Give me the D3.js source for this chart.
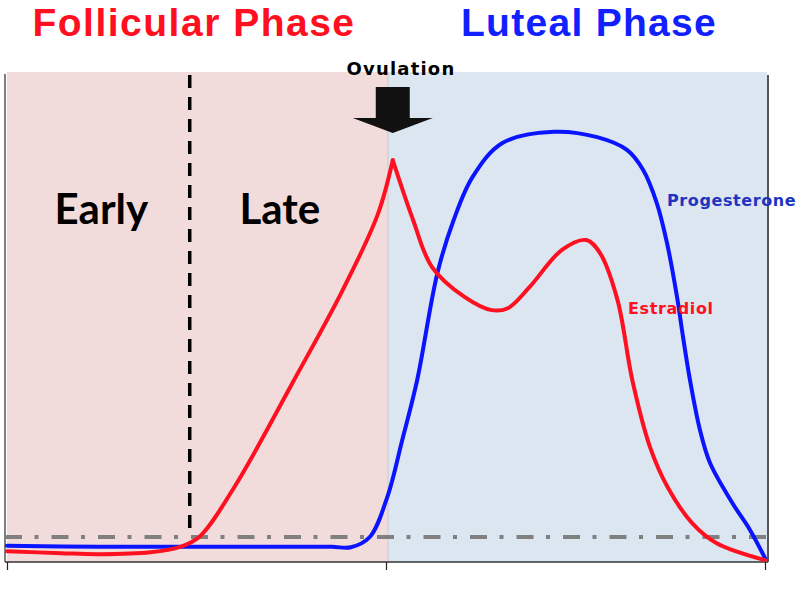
<!DOCTYPE html>
<html>
<head>
<meta charset="utf-8">
<script src="https://cdn.jsdelivr.net/npm/d3@7"></script>
<style>
  html, body { margin: 0; padding: 0; background: #fff; }
  svg { display: block; }
</style>
</head>
<body>
<div id="chart"></div>
<script>
// cycle days and hormone levels (relative, 0-100)
const phaseNames = ["Follicular Phase", "Luteal Phase"];
const subPhaseNames = ["Early", "Late"];
const phaseBounds = [0, 14, 28];
const earlyLateDay = 6.75;
const ovulationDay = 14.25;
const baselineLevel = 5.1;

const estradiolDays = [0, 2, 3.4, 5.3, 6.4, 7.1, 8.4, 10.6, 12.4, 13.7, 14.25,
  15.0, 15.7, 16.9, 17.9, 18.5, 19.3, 20.5, 21.4, 21.9, 22.55, 23.1, 23.75, 24.4, 25.3, 26.2, 28];
const estradiolLevels = [2.2, 1.8, 1.6, 2.0, 3.1, 5.1, 15.3, 37.1, 55.5, 71.0, 82,
  69.8, 60.2, 54.1, 51.4, 51.8, 56.1, 63.7, 65.7, 63.1, 53.5, 37.1, 23.5, 15.3, 8.0, 3.9, 0.4];

const progesteroneDays = [0, 3.4, 7, 10.5, 12.0, 12.7, 13.4, 14.05, 14.6, 15.15, 15.9, 16.5, 17.2,
  18.3, 20.2, 21.8, 22.9, 23.5, 24.0, 24.38, 24.75, 24.94, 25.23, 25.6, 25.97, 26.8, 27.45, 28];
const progesteroneLevels = [3.3, 3.1, 3.1, 3.1, 3.1, 3.0, 5.1, 13.3, 24.9, 37.1, 59.0, 69.8, 78.6,
  85.5, 87.8, 86.7, 84.1, 80.0, 73.3, 65.1, 54.1, 47.1, 37.1, 26.9, 20.2, 12.0, 6.5, 0.8];

const width = 800;
const height = 594;

const x = d3.scaleLinear().domain([0, 28]).range([7, 765]);
const y = d3.scaleLinear().domain([0, 100]).range([562, 72]);

const svg = d3.select("#chart").append("svg")
  .attr("width", width)
  .attr("height", height)
  .attr("viewBox", `0 0 ${width} ${height}`);

/** phase backgrounds **/
const bgColors = ["#f2dcdb", "#dce6f1"];
svg.append("g")
  .selectAll("rect")
  .data([0, 1])
  .join("rect")
  .attr("x", (i) => (i === 0 ? 7 : x(phaseBounds[1]) + 2))
  .attr("y", y(100))
  .attr("width", (i) => (i === 0 ? x(phaseBounds[1]) + 2 - 7 : 767 - x(phaseBounds[1]) - 2))
  .attr("height", y(0) - y(100))
  .attr("fill", (i) => bgColors[i]);

// thin edge where the two phases meet
svg.append("line")
  .attr("x1", x(phaseBounds[1]) + 2).attr("x2", x(phaseBounds[1]) + 2)
  .attr("y1", y(100)).attr("y2", y(0))
  .attr("stroke", "#c9c9cf").attr("stroke-width", 1);

/** frame **/
svg.append("line")
  .attr("x1", 5).attr("x2", 5).attr("y1", y(99.6)).attr("y2", y(0))
  .attr("stroke", "#555").attr("stroke-width", 1.5);
svg.append("line")
  .attr("x1", 768).attr("x2", 768).attr("y1", y(99.4)).attr("y2", y(0))
  .attr("stroke", "#555").attr("stroke-width", 2);

svg.append("g")
  .attr("transform", `translate(0, ${y(0)})`)
  .call(d3.axisBottom(x).tickValues(phaseBounds).tickFormat("").tickSize(8).tickSizeOuter(0))
  .call((g) => {
    g.select(".domain").attr("stroke", "#333").attr("stroke-width", 1.5).attr("d", "M5,0H768");
    g.selectAll(".tick line").attr("stroke", "#222").attr("stroke-width", 1.2);
  });

/** early / late divider **/
svg.append("line")
  .attr("x1", x(earlyLateDay)).attr("x2", x(earlyLateDay))
  .attr("y1", y(99.4)).attr("y2", y(6))
  .attr("stroke", "#000").attr("stroke-width", 3.5)
  .attr("stroke-dasharray", "13,9");

/** baseline (dash-dot) **/
svg.append("line")
  .attr("x1", 5).attr("x2", 767)
  .attr("y1", y(baselineLevel)).attr("y2", y(baselineLevel))
  .attr("stroke", "#808080").attr("stroke-width", 4)
  .attr("stroke-dasharray", "17,12.5,4,13");

/** hormone curves **/
const line = d3.line()
  .x((d) => x(d[0]))
  .y((d) => y(d[1]))
  .curve(d3.curveCatmullRom.alpha(0.5));

const progesterone = progesteroneDays.map((d, i) => [d, progesteroneLevels[i]]);
const estradiol = estradiolDays.map((d, i) => [d, estradiolLevels[i]]);
const peakIndex = estradiolDays.indexOf(ovulationDay);

svg.append("path")
  .datum(progesterone)
  .attr("d", line)
  .attr("fill", "none")
  .attr("stroke", "#0a14ff")
  .attr("stroke-width", 4)
  .attr("stroke-linecap", "round");

// estradiol drawn in two pieces so the ovulation peak stays sharp
[estradiol.slice(0, peakIndex + 1), estradiol.slice(peakIndex)].forEach((part) => {
  svg.append("path")
    .datum(part)
    .attr("d", line)
    .attr("fill", "none")
    .attr("stroke", "#ff1020")
    .attr("stroke-width", 4)
    .attr("stroke-linecap", "round")
    .attr("stroke-linejoin", "round");
});

/** ovulation arrow **/
const ax = x(ovulationDay);
const tipY = 133;
svg.append("path")
  .attr("d", `M${ax - 17},87 H${ax + 17} V118 H${ax + 40} L${ax},${tipY} L${ax - 40},118 H${ax - 17} Z`)
  .attr("fill", "#111");

/** text **/
svg.append("text")
  .attr("x", 194).attr("y", 36)
  .attr("text-anchor", "middle")
  .attr("font-family", "'Liberation Sans', Arial, sans-serif")
  .attr("font-weight", "bold").attr("font-size", 39)
  .attr("letter-spacing", 1.5)
  .attr("fill", "#ff1020")
  .text(phaseNames[0]);

svg.append("text")
  .attr("x", 589).attr("y", 36)
  .attr("text-anchor", "middle")
  .attr("font-family", "'Liberation Sans', Arial, sans-serif")
  .attr("font-weight", "bold").attr("font-size", 39)
  .attr("letter-spacing", 1.3)
  .attr("fill", "#1020ff")
  .text(phaseNames[1]);

svg.append("text")
  .attr("x", 401).attr("y", 75)
  .attr("text-anchor", "middle")
  .attr("font-family", "'DejaVu Sans', sans-serif")
  .attr("font-weight", "bold").attr("font-size", 18)
  .attr("letter-spacing", 1.2)
  .attr("fill", "#000")
  .text("Ovulation");

const subX = [(x(0) + x(earlyLateDay)) / 2 + 3, (x(earlyLateDay) + x(phaseBounds[1])) / 2 - 8];
svg.append("g")
  .selectAll("text")
  .data(subPhaseNames)
  .join("text")
  .attr("x", (d, i) => subX[i])
  .attr("y", 224)
  .attr("text-anchor", "middle")
  .attr("font-family", "Lato, sans-serif")
  .attr("font-weight", "bold").attr("font-size", 42)
  .attr("fill", "#000")
  .text((d) => d);

svg.append("text")
  .attr("x", 667).attr("y", 206)
  .attr("font-family", "'DejaVu Sans', sans-serif")
  .attr("font-weight", "bold").attr("font-size", 16)
  .attr("letter-spacing", 0.6)
  .attr("fill", "#2233c0")
  .text("Progesterone");

svg.append("text")
  .attr("x", 628).attr("y", 314)
  .attr("font-family", "'DejaVu Sans', sans-serif")
  .attr("font-weight", "bold").attr("font-size", 16)
  .attr("letter-spacing", 0.6)
  .attr("fill", "#ff1020")
  .text("Estradiol");
</script>
</body>
</html>
